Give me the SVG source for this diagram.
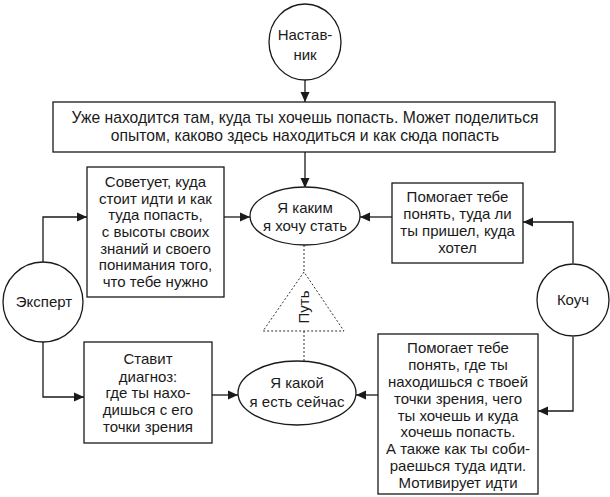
<svg xmlns="http://www.w3.org/2000/svg" width="610" height="497" viewBox="0 0 610 497">
<defs>
<marker id="ah" markerUnits="userSpaceOnUse" markerWidth="10" markerHeight="10" viewBox="0 0 10 10" refX="10" refY="5" orient="auto">
<path d="M0,0.5 L10,5 L0,9.5 Z" fill="#1a1a1a"/>
</marker>
<style>
.sh{fill:#fff;stroke:#1a1a1a;stroke-width:1.3}
.t{font-family:"Liberation Sans",Arial,sans-serif;font-size:15px;fill:#1a1a1a;text-anchor:middle}
.tb{font-size:15.7px}
.c{fill:none;stroke:#1a1a1a;stroke-width:1.3}
.d{fill:none;stroke:#333;stroke-width:1;stroke-dasharray:2,2}
</style>
</defs>
<rect width="610" height="497" fill="#fff"/>
<g id="connectors">
<line class="c" x1="305" y1="80" x2="305" y2="102" marker-end="url(#ah)"/>
<line class="c" x1="305" y1="152" x2="305" y2="188" marker-end="url(#ah)"/>
<polyline class="c" points="43,262 43,217 87,217" marker-end="url(#ah)"/>
<line class="c" x1="224" y1="217" x2="250" y2="217" marker-end="url(#ah)"/>
<line class="c" x1="392" y1="217" x2="360" y2="217" marker-end="url(#ah)"/>
<polyline class="c" points="573,263 573,222 523,222" marker-end="url(#ah)"/>
<polyline class="c" points="43,342 43,397 84,397" marker-end="url(#ah)"/>
<line class="c" x1="212" y1="395" x2="238" y2="395" marker-end="url(#ah)"/>
<line class="c" x1="378" y1="395" x2="356" y2="395" marker-end="url(#ah)"/>
<polyline class="c" points="573,337 573,411 538,411" marker-end="url(#ah)"/>
<line class="d" x1="304" y1="245" x2="304" y2="272"/>
<line class="d" x1="304" y1="331" x2="304" y2="361"/>
</g>
<g id="mentor">
<ellipse class="sh" cx="305" cy="42" rx="36" ry="38"/>
<text class="t" x="305" y="40">Настав-</text>
<text class="t" x="305" y="60">ник</text>
</g>
<g id="mentor-box">
<rect class="sh" x="53" y="102" width="502" height="50"/>
<text class="t tb" x="305" y="123">Уже находится там, куда ты хочешь попасть. Может поделиться</text>
<text class="t tb" x="305" y="141">опытом, каково здесь находиться и как сюда попасть</text>
</g>
<g id="expert-box-top">
<rect class="sh" x="87" y="167" width="137" height="130"/>
<text class="t" x="155.5" y="187">Советует, куда</text>
<text class="t" x="155.5" y="204">стоит идти и как</text>
<text class="t" x="155.5" y="220">туда попасть,</text>
<text class="t" x="155.5" y="237">с высоты своих</text>
<text class="t" x="155.5" y="254">знаний и своего</text>
<text class="t" x="155.5" y="270">понимания того,</text>
<text class="t" x="155.5" y="287">что тебе нужно</text>
</g>
<g id="goal">
<ellipse class="sh" cx="305" cy="216" rx="55" ry="29"/>
<text class="t" x="305" y="213">Я каким</text>
<text class="t" x="305" y="231">я хочу стать</text>
</g>
<g id="coach-box-top">
<rect class="sh" x="392" y="183" width="131" height="80"/>
<text class="t" x="457.5" y="202">Помогает тебе</text>
<text class="t" x="457.5" y="219">понять, туда ли</text>
<text class="t" x="457.5" y="236">ты пришел, куда</text>
<text class="t" x="457.5" y="253">хотел</text>
</g>
<g id="expert">
<circle class="sh" cx="43" cy="302" r="40"/>
<text class="t" x="44" y="307">Эксперт</text>
</g>
<g id="coach">
<circle class="sh" cx="573" cy="300" r="36"/>
<text class="t" x="573" y="305">Коуч</text>
</g>
<g id="path">
<polygon class="d" points="304,272 263,331 344,331"/>
<text class="t" transform="translate(309,307) rotate(-90)" x="0" y="0">Путь</text>
</g>
<g id="expert-box-bottom">
<rect class="sh" x="84" y="342" width="128" height="101"/>
<text class="t" x="148" y="364">Ставит</text>
<text class="t" x="148" y="382">диагноз:</text>
<text class="t" x="148" y="398">где ты нахо-</text>
<text class="t" x="148" y="415">дишься с его</text>
<text class="t" x="148" y="432">точки зрения</text>
</g>
<g id="current">
<ellipse class="sh" cx="297" cy="393" rx="59" ry="32"/>
<text class="t" x="297" y="388">Я какой</text>
<text class="t" x="297" y="407">я есть сейчас</text>
</g>
<g id="coach-box-bottom">
<rect class="sh" x="378" y="334" width="160" height="160"/>
<text class="t" x="458" y="353">Помогает тебе</text>
<text class="t" x="458" y="370">понять, где ты</text>
<text class="t" x="458" y="387">находишься с твоей</text>
<text class="t" x="458" y="404">точки зрения, чего</text>
<text class="t" x="458" y="421">ты хочешь и куда</text>
<text class="t" x="458" y="437">хочешь попасть.</text>
<text class="t" x="458" y="454">А также как ты соби-</text>
<text class="t" x="458" y="471">раешься туда идти.</text>
<text class="t" x="458" y="488">Мотивирует идти</text>
</g>
</svg>
